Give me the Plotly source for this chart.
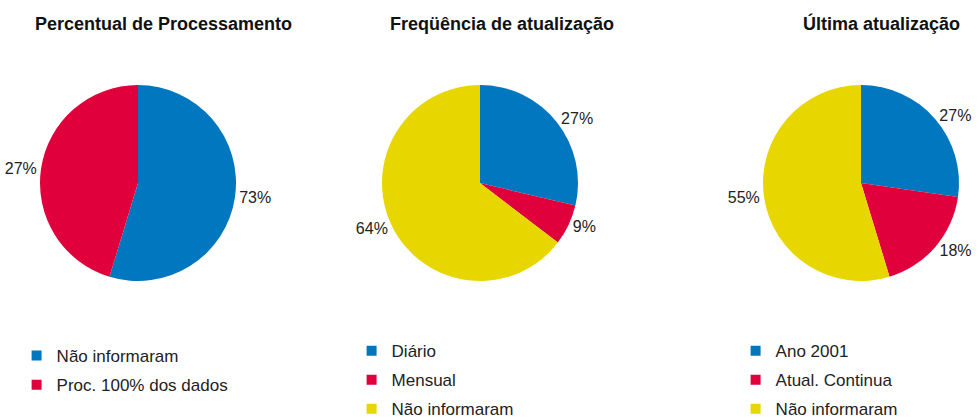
import plotly.graph_objects as go

# ---- data ----
titles = ["Percentual de Processamento", "Freqüência de atualização", "Última atualização"]

proc_labels = ["Não informaram", "Proc. 100% dos dados"]
proc_values = [54.7, 45.3]          # slice sizes as drawn
proc_text = ["73%", "27%"]          # printed labels

freq_labels = ["Diário", "Mensual", "Não informaram"]
freq_values = [28.7, 6.7, 64.6]
freq_text = ["27%", "9%", "64%"]

ult_labels = ["Ano 2001", "Atual. Continua", "Não informaram"]
ult_values = [27.3, 18.0, 54.7]
ult_text = ["27%", "18%", "55%"]

blue, red, yellow = "#0077BE", "#E0003C", "#E8D600"
FONT = "Liberation Sans, Arial, Helvetica, sans-serif"

W, H = 979, 420

fig = go.Figure()

pies = [
    (proc_labels, proc_values, proc_text, [blue, red], [0.04086, 0.24106], "legend"),
    (freq_labels, freq_values, freq_text, [blue, red, yellow], [0.39020, 0.59040], "legend2"),
    (ult_labels, ult_values, ult_text, [blue, red, yellow], [0.77937, 0.97957], "legend3"),
]

for k, (labels, values, text, colors, domx, leg) in enumerate(pies):
    fig.add_trace(go.Pie(
        labels=labels, values=values, text=text,
        textinfo="text", textposition="outside",
        textfont=dict(size=16, color="#222", family=FONT),
        marker=dict(colors=colors, line=dict(width=0)),
        sort=False, direction="clockwise", rotation=0,
        domain=dict(x=domx, y=[0.33095, 0.79762]),
        showlegend=False, hoverinfo="label+text",
    ))
    # legend entries (one per slice) so rows can be spaced like the original
    for j, (lab, col) in enumerate(zip(labels, colors)):
        fig.add_trace(go.Scatter(
            x=[None], y=[None], mode="markers", name=lab,
            marker=dict(symbol="square", size=10, color=col),
            legend=leg, legendgroup=f"p{k}s{j}", hoverinfo="skip",
        ))

leg_common = dict(font=dict(size=17, color="#222", family=FONT), bgcolor="rgba(0,0,0,0)",
                  xanchor="left", yanchor="top", orientation="v",
                  traceorder="grouped", tracegroupgap=4, itemclick=False)

fig.update_layout(
    width=W, height=H,
    margin=dict(l=0, r=0, t=0, b=0, autoexpand=False),
    paper_bgcolor="white", plot_bgcolor="white",
    font=dict(family=FONT, color="#222"),
    xaxis=dict(visible=False), yaxis=dict(visible=False),
    legend=dict(x=0.01696, y=0.1952, **leg_common),
    legend2=dict(x=0.35914, y=0.2069, **leg_common),
    legend3=dict(x=0.75138, y=0.2069, **leg_common),
    annotations=[
        dict(text=f"<b>{t}</b>", x=x, y=0.9429, xref="paper", yref="paper",
             showarrow=False, xanchor="center", yanchor="middle",
             font=dict(size=18, color="#111", family=FONT))
        for t, x in zip(titles, [0.1665, 0.5123, 0.9009])
    ],
)

# let the figure start at the page's top-left corner
fig.write_html("out.html", config={"displayModeBar": False},
               post_script="document.body.style.margin='0';")
